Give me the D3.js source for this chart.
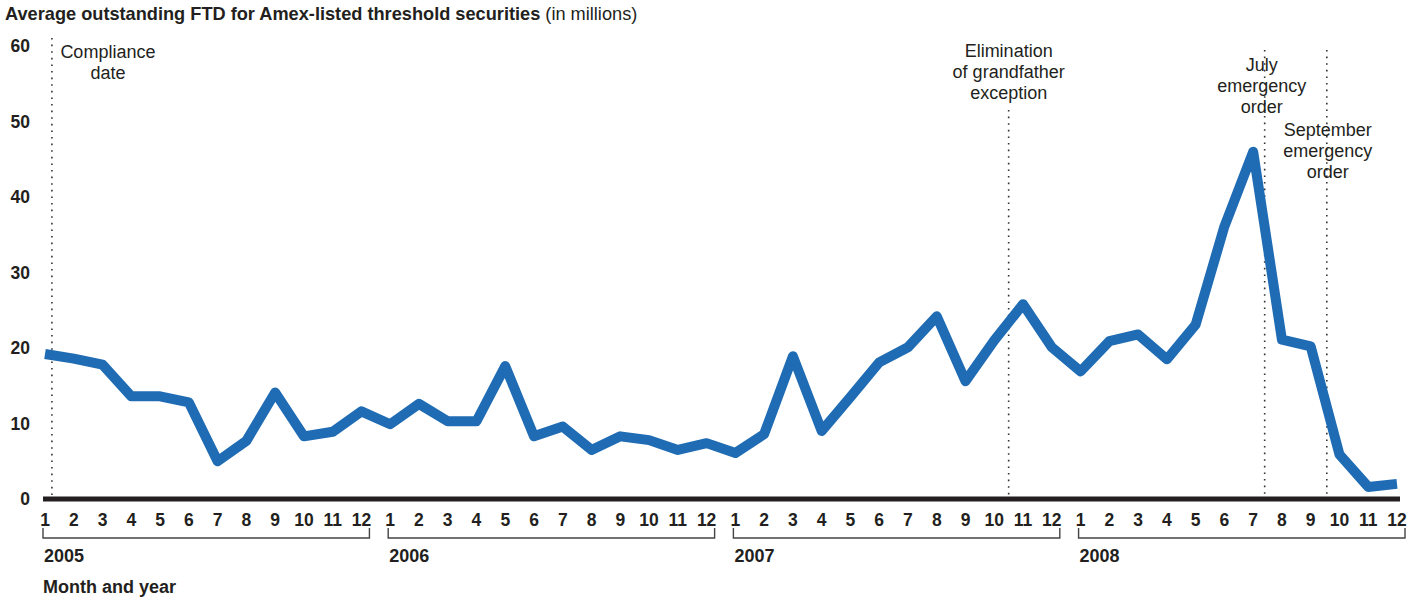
<!DOCTYPE html>
<html>
<head>
<meta charset="utf-8">
<script src="https://cdn.jsdelivr.net/npm/d3@7"></script>
<style>
  html, body { margin: 0; padding: 0; background: #fff; }
  svg { display: block; font-family: "Liberation Sans", Arial, Helvetica, sans-serif; }
</style>
</head>
<body>
<svg id="chart" width="1424" height="603"></svg>
<script>
// ---- data ----
const years = ["2005", "2006", "2007", "2008"];
const monthLabels = ["1","2","3","4","5","6","7","8","9","10","11","12"];
const ftd2005 = [19.2, 18.6, 17.8, 13.6, 13.6, 12.8, 5.0, 7.7, 14.1, 8.3, 8.9, 11.6];
const ftd2006 = [9.9, 12.6, 10.3, 10.3, 17.6, 8.3, 9.6, 6.5, 8.3, 7.8, 6.5, 7.4];
const ftd2007 = [6.1, 8.6, 18.9, 9.0, 13.5, 18.1, 20.1, 24.2, 15.6, 21.0, 25.8, 20.1];
const ftd2008 = [16.9, 20.9, 21.8, 18.5, 23.1, 36.1, 46.0, 21.1, 20.2, 5.9, 1.6, 2.0];
const yTicks = [0, 10, 20, 30, 40, 50, 60];
const eventPositions = [0.24, 33.5, 42.4, 44.56]; // month index (0 = Jan 2005)
const eventLabels = [
  ["Compliance", "date"],
  ["Elimination", "of grandfather", "exception"],
  ["July", "emergency", "order"],
  ["September", "emergency", "order"]
];
const titleBold = "Average outstanding FTD for Amex-listed threshold securities";
const titleLight = " (in millions)";
const xAxisTitle = "Month and year";

// ---- build series ----
const series = [ftd2005, ftd2006, ftd2007, ftd2008].flat().map((v, i) => ({ i, v }));

// ---- layout ----
const svg = d3.select("#chart");
const ink = "#231f20";
const blue = "#1f6cb4";

const x = d3.scaleLinear().domain([0, series.length - 1]).range([45, 1397]);
const y = d3.scaleLinear().domain([0, 60]).range([499, 46]);

// title
const title = svg.append("text").attr("x", 5).attr("y", 20)
  .attr("font-size", 18.2).attr("fill", ink);
title.append("tspan").attr("font-weight", "bold").text(titleBold);
title.append("tspan").text(titleLight);

// y axis labels
svg.append("g").selectAll("text").data(yTicks).join("text")
  .attr("x", 30).attr("y", d => y(d))
  .attr("dy", "0.35em")
  .attr("text-anchor", "end")
  .attr("font-size", 17.5).attr("font-weight", "bold").attr("fill", ink)
  .text(d => d);

// event annotations (dotted lines + text)
const evTextCfg = [
  { dx: 56, y0: 58, lineTop: 38 },
  { dx: 0, y0: 57, lineTop: 110 },
  { dx: -3, y0: 71, lineTop: 50 },
  { dx: 1, y0: 136, lineTop: 50 }
];
eventPositions.forEach((p, k) => {
  const cx = x(p);
  const cfg = evTextCfg[k];
  svg.append("line")
    .attr("x1", cx).attr("x2", cx)
    .attr("y1", cfg.lineTop).attr("y2", y(0))
    .attr("stroke", "#333").attr("stroke-width", 1.6)
    .attr("stroke-dasharray", "1.6,5");
  const t = svg.append("text")
    .attr("font-size", 18).attr("fill", ink).attr("text-anchor", "middle");
  eventLabels[k].forEach((line, j) => {
    t.append("tspan").attr("x", cx + cfg.dx).attr("y", cfg.y0 + j * 21).text(line);
  });
});

// data line
svg.append("path").datum(series)
  .attr("fill", "none")
  .attr("stroke", blue)
  .attr("stroke-width", 10)
  .attr("stroke-linejoin", "round")
  .attr("d", d3.line().x(d => x(d.i)).y(d => y(d.v)));

// baseline (zero)
svg.append("line")
  .attr("x1", 43).attr("x2", 1400)
  .attr("y1", y(0)).attr("y2", y(0))
  .attr("stroke", ink).attr("stroke-width", 5);

// month labels
const xg = svg.append("g");
xg.selectAll("text").data(series).join("text")
  .attr("x", d => x(d.i)).attr("y", 526)
  .attr("text-anchor", "middle")
  .attr("font-size", 17.5).attr("font-weight", "bold").attr("fill", ink)
  .text(d => monthLabels[d.i % 12]);

// year brackets and labels
years.forEach((yr, k) => {
  const x0 = x(k * 12) - 2;
  const x1 = x(k * 12 + 11) + 8;
  svg.append("path")
    .attr("d", `M${x0},528V538H${x1}V528`)
    .attr("fill", "none").attr("stroke", "#444").attr("stroke-width", 1.4);
  svg.append("text")
    .attr("x", x0 + 1).attr("y", 562)
    .attr("font-size", 18).attr("font-weight", "bold").attr("fill", ink)
    .text(yr);
});

svg.append("text").attr("x", 43).attr("y", 593)
  .attr("font-size", 18).attr("font-weight", "bold").attr("fill", ink)
  .text(xAxisTitle);
</script>
</body>
</html>
